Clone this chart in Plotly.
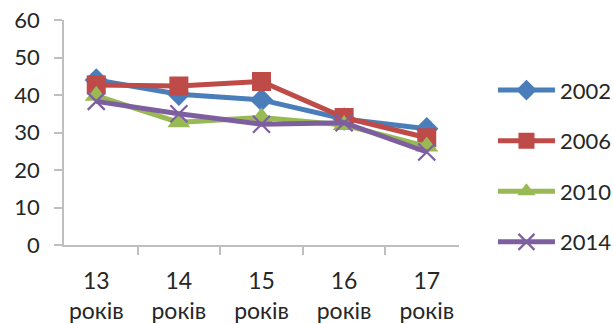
import plotly.graph_objects as go

# Age groups on the x axis
ages = ["13", "14", "15", "16", "17"]
age_unit = "років"

# Survey years and their values per age group
years = ["2002", "2006", "2010", "2014"]
v2002 = [44.0, 40.2, 38.7, 33.6, 31.0]
v2006 = [42.7, 42.4, 43.6, 34.0, 28.6]
v2010 = [39.8, 32.7, 34.0, 32.0, 26.3]
v2014 = [38.3, 35.0, 32.2, 32.6, 24.8]
series = [v2002, v2006, v2010, v2014]

y_ticks = [0, 10, 20, 30, 40, 50, 60]

styles = [
    dict(color="#4a7ebb", symbol="diamond", size=18, mline=0),
    dict(color="#be4b48", symbol="square", size=19, mline=0),
    dict(color="#98b954", symbol="triangle-up", size=20, mline=0),
    dict(color="#7d5fa0", symbol="x-thin", size=17, mline=2.2),
]

fig = go.Figure()
for name, vals, st in zip(years, series, styles):
    fig.add_trace(go.Scatter(
        x=ages, y=vals, name=name, mode="lines+markers",
        legendgroup=name,
        line=dict(color=st["color"], width=5),
        marker=dict(symbol=st["symbol"], size=st["size"], color=st["color"],
                    line=dict(color=st["color"], width=st["mline"])),
    ))

axis_col = "#bfbfbf"
font = dict(family="Lato, 'Open Sans', sans-serif", size=22, color="#262626")
xfont = dict(family="Lato, 'Open Sans', sans-serif", size=23, color="#262626")

fig.update_layout(
    width=614, height=324,
    margin=dict(l=64, r=155, t=20, b=79, autoexpand=False),
    paper_bgcolor="white", plot_bgcolor="white",
    font=font,
    showlegend=True,
    legend=dict(x=1.086, xanchor="left", xref="paper", y=0.35, yanchor="middle",
                font=font, itemwidth=57, tracegroupgap=19,
                bgcolor="rgba(0,0,0,0)"),
)
fig.update_xaxes(
    type="category", tickvals=ages,
    ticktext=[f"{a}<br>{age_unit}" for a in ages],
    tickson="boundaries", ticks="outside", ticklen=8, tickcolor=axis_col, tickwidth=1.5,
    showline=True, linecolor=axis_col, linewidth=1.5, showgrid=False,
    tickfont=xfont, zeroline=False, ticklabelstandoff=15,
)
fig.update_yaxes(
    range=[0, 60], tickvals=y_ticks,
    ticks="outside", ticklen=8, tickcolor=axis_col, tickwidth=1.5,
    showline=True, linecolor=axis_col, linewidth=1.5, showgrid=False,
    zeroline=False, tickfont=font, ticklabelstandoff=10,
)

fig.write_html("out.html")
